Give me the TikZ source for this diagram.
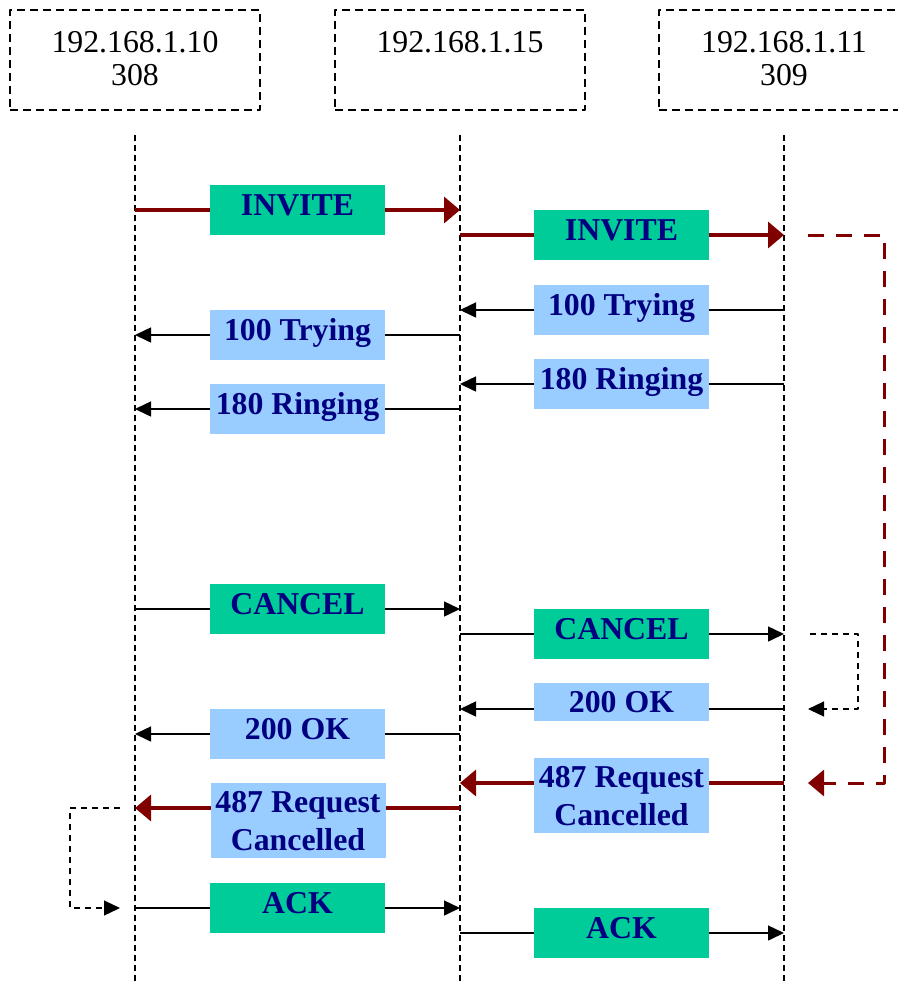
\documentclass[tikz,border=0pt]{standalone}
\usepackage{fontspec}
\setmainfont{Liberation Serif}
\usetikzlibrary{arrows.meta}
\definecolor{sipred}{HTML}{800000}
\definecolor{sipgreen}{HTML}{00CC99}
\definecolor{sipblue}{HTML}{99CCFF}
\definecolor{sipnavy}{HTML}{000080}
\tikzset{
  hostbox/.style={draw, line width=0.6pt, dash pattern=on 4pt off 2.5pt, minimum width=125pt, minimum height=50pt, inner sep=0pt},
  hosttext/.style={font=\fontsize{15.9}{16.5}\selectfont, align=center, inner sep=0pt, anchor=north},
  lifeline/.style={line width=0.6pt, dash pattern=on 3pt off 2pt},
  msg/.style={line width=0.75pt, -{Triangle[length=8pt, width=7.5pt]}},
  redmsg/.style={draw=sipred, line width=1.75pt, -{Triangle[length=8pt, width=13pt]}},
  loopline/.style={line width=0.6pt, dash pattern=on 3pt off 2.5pt, -{Triangle[length=8pt, width=7.5pt]}},
  redloop/.style={draw=sipred, line width=1.5pt, dash pattern=on 8pt off 6pt, -{Triangle[length=8pt, width=13pt]}},
  msgbox/.style={inner sep=0pt, minimum width=87.5pt, minimum height=25pt, text=sipnavy, align=center,
    font=\fontsize{15.9}{19}\selectfont\bfseries, text height=10.5pt, text depth=5pt},
  greenbox/.style={msgbox, fill=sipgreen},
  bluebox/.style={msgbox, fill=sipblue}
}
\begin{document}
\begin{tikzpicture}[x=0.5pt, y=-0.5pt, line join=round]
    \useasboundingbox (0,0) rectangle (898,981);

    % hosts
    \node[hostbox] (host1) at (135,60) {};
    \node[hostbox] (host2) at (460,60) {};
    \node[hostbox] (host3) at (784,60) {};
    \node[hosttext] (name1) at (135,31) {192.168.1.10\\308};
    \node[hosttext] (name2) at (460,31) {192.168.1.15};
    \node[hosttext] (name3) at (784,31) {192.168.1.11\\309};

    \coordinate (top1) at (135,135);
    \coordinate (top2) at (460,135);
    \coordinate (top3) at (784,135);
    \coordinate (bot1) at (135,981);
    \coordinate (bot2) at (460,981);
    \coordinate (bot3) at (784,981);
    \draw[lifeline] (top1) -- (bot1);
    \draw[lifeline] (top2) -- (bot2);
    \draw[lifeline] (top3) -- (bot3);

    % INVITE
    \coordinate (inv1s) at (135,210);
    \coordinate (inv1e) at (460,210);
    \coordinate (inv2s) at (460,235);
    \coordinate (inv2e) at (784,235);
    \draw[redmsg] (inv1s) -- (inv1e);
    \draw[redmsg] (inv2s) -- (inv2e);
    \node[greenbox] (invite1) at (297.5,210) {INVITE};
    \node[greenbox] (invite2) at (621.5,235) {INVITE};

    % 100 Trying
    \coordinate (try2s) at (784,310);
    \coordinate (try2e) at (460,310);
    \coordinate (try1s) at (460,335);
    \coordinate (try1e) at (135,335);
    \draw[msg] (try2s) -- (try2e);
    \draw[msg] (try1s) -- (try1e);
    \node[bluebox] (trying2) at (621.5,310) {100 Trying};
    \node[bluebox] (trying1) at (297.5,335) {100 Trying};

    % 180 Ringing
    \coordinate (ring2s) at (784,384);
    \coordinate (ring2e) at (460,384);
    \coordinate (ring1s) at (460,409);
    \coordinate (ring1e) at (135,409);
    \draw[msg] (ring2s) -- (ring2e);
    \draw[msg] (ring1s) -- (ring1e);
    \node[bluebox] (ringing2) at (621.5,384) {180 Ringing};
    \node[bluebox] (ringing1) at (297.5,409) {180 Ringing};

    % CANCEL
    \coordinate (can1s) at (135,609);
    \coordinate (can1e) at (460,609);
    \coordinate (can2s) at (460,634);
    \coordinate (can2e) at (784,634);
    \draw[msg] (can1s) -- (can1e);
    \draw[msg] (can2s) -- (can2e);
    \node[greenbox] (cancel1) at (297.5,609) {CANCEL};
    \node[greenbox] (cancel2) at (621.5,634) {CANCEL};

    % 200 OK
    \coordinate (ok2s) at (784,709);
    \coordinate (ok2e) at (460,709);
    \coordinate (ok1s) at (460,734);
    \coordinate (ok1e) at (135,734);
    \draw[msg] (ok2s) -- (ok2e);
    \draw[msg] (ok1s) -- (ok1e);
    \node[bluebox, minimum height=19pt, text depth=0pt] (ok2) at (621.5,702) {200 OK};
    \node[bluebox] (ok1) at (297.5,734) {200 OK};

    % 487
    \coordinate (rc2s) at (784,783);
    \coordinate (rc2e) at (460,783);
    \coordinate (rc1s) at (460,808);
    \coordinate (rc1e) at (135,808);
    \draw[redmsg] (rc2s) -- (rc2e);
    \draw[redmsg] (rc1s) -- (rc1e);
    \node[bluebox, minimum height=37.5pt, text height=29.5pt, text depth=0pt] (req2) at (621.5,795.5) {487 Request\\Cancelled};
    \node[bluebox, minimum height=37.5pt, text height=29.5pt, text depth=0pt] (req1) at (298,820.5) {487 Request\\Cancelled};

    % ACK
    \coordinate (ack1s) at (135,908);
    \coordinate (ack1e) at (460,908);
    \coordinate (ack2s) at (460,933);
    \coordinate (ack2e) at (784,933);
    \draw[msg] (ack1s) -- (ack1e);
    \draw[msg] (ack2s) -- (ack2e);
    \node[greenbox] (ack1) at (297.5,908) {ACK};
    \node[greenbox] (ack2) at (621.5,933) {ACK};

    % loops
    \coordinate (rl1) at (808,235);
    \coordinate (rl2) at (808,783);
    \draw[redloop] (rl1) -| (884,783) -- (rl2);
    \coordinate (bl1) at (810,634);
    \coordinate (bl2) at (808,709);
    \draw[loopline] (bl1) -| (858,709) -- (bl2);
    \coordinate (ll1) at (120,808);
    \coordinate (ll2) at (120,908);
    \draw[loopline] (ll1) -| (70,908) -- (ll2);
\end{tikzpicture}
\end{document}
